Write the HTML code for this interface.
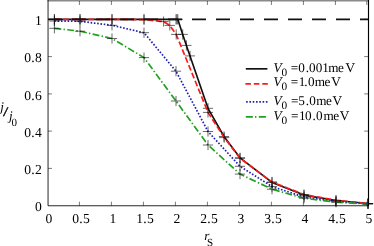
<!DOCTYPE html><html><head><meta charset="utf-8"><style>
html,body{margin:0;padding:0;background:#fff;}
body{width:374px;height:246px;position:relative;overflow:hidden;font-family:"Liberation Serif",serif;}
</style></head><body>
<svg width="374" height="246" viewBox="0 0 374 246" style="position:absolute;left:0;top:0;will-change:transform" font-family="Liberation Serif, serif" fill="#000" text-rendering="geometricPrecision">
<path d="M47.5 0.75H368.7" stroke="#8a8a8a" stroke-width="1.5" fill="none"/>
<path d="M48.05 0V205.75H368.4" stroke="#000" stroke-width="1" stroke-opacity="0.85" fill="none"/>
<path d="M368.5 0V206.2" stroke="#000" stroke-width="1.15" fill="none"/>
<path d="M79.4 205.7V201.7M79.4 1V5M111.4 205.7V201.7M111.4 1V5M143.4 205.7V201.7M143.4 1V5M175.4 205.7V201.7M175.4 1V5M207.4 205.7V201.7M207.4 1V5M239.4 205.7V201.7M239.4 1V5M271.4 205.7V201.7M271.4 1V5M303.4 205.7V201.7M303.4 1V5M335.4 205.7V201.7M335.4 1V5M366.8 205.7V201.7M366.8 1V5M48 168.4H52M368.2 168.4H364.2M48 131.1H52M368.2 131.1H364.2M48 93.9H52M368.2 93.9H364.2M48 56.6H52M368.2 56.6H364.2M48 19.3H52M368.2 19.3H364.2" stroke="#000" stroke-width="0.7" stroke-opacity="0.75" fill="none"/>
<polyline points="54.4,19.3 80.0,19.3 112.0,19.3 144.0,19.3 177.8,19.3 182.7,34.4 186.4,45.4 190.0,55.9 208.0,108.3 224.0,136.5 240.0,157.8 272.0,182.4 304.0,195.1 336.0,200.5 368.0,203.5" stroke="#111" stroke-width="1.65" fill="none" stroke-linejoin="round"/>
<path d="M49.3 19.3H59.5M54.4 14.2V24.4M74.9 19.3H85.1M80.0 14.2V24.4M106.9 19.3H117.1M112.0 14.2V24.4M138.9 19.3H149.1M144.0 14.2V24.4M172.7 19.3H182.9M177.8 14.2V24.4M177.6 34.4H187.8M182.7 29.3V39.5M181.3 45.4H191.5M186.4 40.3V50.5M184.9 55.9H195.1M190.0 50.8V61.0M202.9 108.3H213.1M208.0 103.2V113.4M218.9 136.5H229.1M224.0 131.4V141.6M234.9 157.8H245.1M240.0 152.7V162.9M266.9 182.4H277.1M272.0 177.3V187.5M298.9 195.1H309.1M304.0 190.0V200.2M330.9 200.5H341.1M336.0 195.4V205.6M362.9 203.5H373.1M368.0 198.4V208.6" stroke="#000" stroke-width="0.75" stroke-opacity="0.78" fill="none"/>
<polyline points="54.4,19.3 80.0,19.3 112.0,19.3 144.0,19.6 163.6,21.6 169.8,25.4 176.2,34.4 208.0,112.4 224.2,137.6 240.0,158.3 272.0,182.0 304.0,194.6 336.0,200.3 368.0,203.5" stroke="#ff1a1a" stroke-width="1.7" stroke-dasharray="5.9 2.56" fill="none"/>
<path d="M49.3 19.3H59.5M54.4 14.2V24.4M74.9 19.3H85.1M80.0 14.2V24.4M106.9 19.3H117.1M112.0 14.2V24.4M138.9 19.6H149.1M144.0 14.5V24.7M158.5 21.6H168.7M163.6 16.5V26.7M164.7 25.4H174.9M169.8 20.3V30.5M171.1 34.4H181.3M176.2 29.3V39.5M202.9 112.4H213.1M208.0 107.3V117.5M219.1 137.6H229.3M224.2 132.5V142.7M234.9 158.3H245.1M240.0 153.2V163.4M266.9 182.0H277.1M272.0 176.9V187.1M298.9 194.6H309.1M304.0 189.5V199.7M330.9 200.3H341.1M336.0 195.2V205.4M362.9 203.5H373.1M368.0 198.4V208.6" stroke="#000" stroke-width="0.75" stroke-opacity="0.78" fill="none"/>
<polyline points="54.4,21.0 80.0,21.3 112.0,25.3 144.0,32.7 176.0,71.2 208.0,131.5 240.0,166.3 272.0,186.6 304.0,197.0 336.0,201.5 368.0,203.8" stroke="#2020b4" stroke-width="1.7" stroke-dasharray="1.6 1.7" fill="none"/>
<path d="M49.3 21.0H59.5M54.4 15.9V26.1M74.9 21.3H85.1M80.0 16.2V26.4M106.9 25.3H117.1M112.0 20.2V30.4M138.9 32.7H149.1M144.0 27.6V37.8M170.9 71.2H181.1M176.0 66.1V76.3M202.9 131.5H213.1M208.0 126.4V136.6M234.9 166.3H245.1M240.0 161.2V171.4M266.9 186.6H277.1M272.0 181.5V191.7M298.9 197.0H309.1M304.0 191.9V202.1M330.9 201.5H341.1M336.0 196.4V206.6M362.9 203.8H373.1M368.0 198.7V208.9" stroke="#000" stroke-width="0.75" stroke-opacity="0.78" fill="none"/>
<polyline points="54.4,28.3 80.0,31.2 112.0,38.5 144.0,57.6 176.0,101.0 208.0,145.0 240.0,174.1 272.0,189.2 304.0,198.2 336.0,202.2 368.0,204.0" stroke="#22a022" stroke-width="1.7" stroke-dasharray="6.9 2.3 1.4 2.3" fill="none"/>
<path d="M49.3 28.3H59.5M54.4 23.2V33.4M74.9 31.2H85.1M80.0 26.1V36.3M106.9 38.5H117.1M112.0 33.4V43.6M138.9 57.6H149.1M144.0 52.5V62.7M170.9 101.0H181.1M176.0 95.9V106.1M202.9 145.0H213.1M208.0 139.9V150.1M234.9 174.1H245.1M240.0 169.0V179.2M266.9 189.2H277.1M272.0 184.1V194.3M298.9 198.2H309.1M304.0 193.1V203.3M330.9 202.2H341.1M336.0 197.1V207.3M362.9 204.0H373.1M368.0 198.9V209.1" stroke="#000" stroke-width="0.75" stroke-opacity="0.78" fill="none"/>
<path d="M176 14.2V24.4M176.9 14.2V24.4" stroke="#000" stroke-width="0.75" stroke-opacity="0.78" fill="none"/>
<path d="M48 19.3H368.2" stroke="#111" stroke-width="1.65" stroke-dasharray="14 10" fill="none"/>
<path d="M245.8 68.85H267.4" stroke="#111" stroke-width="1.65"/>
<path d="M245.4 83.9H267.8" stroke="#ff1a1a" stroke-width="1.7" stroke-dasharray="5.5 2.95"/>
<path d="M246.1 101.8H267.8" stroke="#2020b4" stroke-width="1.7" stroke-dasharray="1.6 1.7"/>
<path d="M245.8 116.85H267.6" stroke="#22a022" stroke-width="1.7" stroke-dasharray="7.1 2.1 1.4 2.4"/>
<text x="49.00" y="222.50" font-size="13.6" text-anchor="middle">0</text>
<text x="72.28" y="222.50" font-size="13.6">0</text>
<text x="79.30" y="222.50" font-size="13.6">.</text>
<text x="82.93" y="222.50" font-size="13.6">5</text>
<text x="113.00" y="222.50" font-size="13.6" text-anchor="middle">1</text>
<text x="136.28" y="222.50" font-size="13.6">1</text>
<text x="143.30" y="222.50" font-size="13.6">.</text>
<text x="146.92" y="222.50" font-size="13.6">5</text>
<text x="177.00" y="222.50" font-size="13.6" text-anchor="middle">2</text>
<text x="200.28" y="222.50" font-size="13.6">2</text>
<text x="207.30" y="222.50" font-size="13.6">.</text>
<text x="210.92" y="222.50" font-size="13.6">5</text>
<text x="241.00" y="222.50" font-size="13.6" text-anchor="middle">3</text>
<text x="264.27" y="222.50" font-size="13.6">3</text>
<text x="271.30" y="222.50" font-size="13.6">.</text>
<text x="274.92" y="222.50" font-size="13.6">5</text>
<text x="305.00" y="222.50" font-size="13.6" text-anchor="middle">4</text>
<text x="328.27" y="222.50" font-size="13.6">4</text>
<text x="335.30" y="222.50" font-size="13.6">.</text>
<text x="338.92" y="222.50" font-size="13.6">5</text>
<text x="369.00" y="222.50" font-size="13.6" text-anchor="middle">5</text>
<text x="34.90" y="211.40" font-size="13.6">0</text>
<text x="34.90" y="174.12" font-size="13.6">2</text>
<text x="31.28" y="174.12" font-size="13.6">.</text>
<text x="24.25" y="174.12" font-size="13.6">0</text>
<text x="34.90" y="136.84" font-size="13.6">4</text>
<text x="31.28" y="136.84" font-size="13.6">.</text>
<text x="24.25" y="136.84" font-size="13.6">0</text>
<text x="34.90" y="99.56" font-size="13.6">6</text>
<text x="31.28" y="99.56" font-size="13.6">.</text>
<text x="24.25" y="99.56" font-size="13.6">0</text>
<text x="34.90" y="62.28" font-size="13.6">8</text>
<text x="31.28" y="62.28" font-size="13.6">.</text>
<text x="24.25" y="62.28" font-size="13.6">0</text>
<text x="34.90" y="25.00" font-size="13.6">1</text>
<text x="273.51" y="71.50" font-size="13.2" font-style="italic">V</text>
<text x="281.47" y="75.50" font-size="11.3">0</text>
<text x="290.84" y="71.50" font-size="13.2">=</text>
<text x="298.30" y="71.50" font-size="13.2">0</text>
<text x="305.73" y="71.50" font-size="13.2">.</text>
<text x="309.10" y="71.50" font-size="13.2">0</text>
<text x="315.70" y="71.50" font-size="13.2">0</text>
<text x="322.34" y="71.50" font-size="13.2">1</text>
<text x="328.22" y="71.50" font-size="13.2">m</text>
<text x="337.98" y="71.50" font-size="13.2">e</text>
<text x="345.55" y="71.50" font-size="13.2">V</text>
<text x="273.51" y="86.40" font-size="13.2" font-style="italic">V</text>
<text x="281.47" y="90.40" font-size="11.3">0</text>
<text x="290.74" y="86.40" font-size="13.2">=</text>
<text x="298.84" y="86.40" font-size="13.2">1</text>
<text x="304.33" y="86.40" font-size="13.2">.</text>
<text x="307.90" y="86.40" font-size="13.2">0</text>
<text x="314.72" y="86.40" font-size="13.2">m</text>
<text x="324.38" y="86.40" font-size="13.2">e</text>
<text x="331.15" y="86.40" font-size="13.2">V</text>
<text x="273.51" y="104.50" font-size="13.2" font-style="italic">V</text>
<text x="281.47" y="108.50" font-size="11.3">0</text>
<text x="291.04" y="104.50" font-size="13.2">=</text>
<text x="298.23" y="104.50" font-size="13.2">5</text>
<text x="305.73" y="104.50" font-size="13.2">.</text>
<text x="309.20" y="104.50" font-size="13.2">0</text>
<text x="316.22" y="104.50" font-size="13.2">m</text>
<text x="325.98" y="104.50" font-size="13.2">e</text>
<text x="332.45" y="104.50" font-size="13.2">V</text>
<text x="273.51" y="119.50" font-size="13.2" font-style="italic">V</text>
<text x="281.47" y="123.50" font-size="11.3">0</text>
<text x="291.04" y="119.50" font-size="13.2">=</text>
<text x="299.04" y="119.50" font-size="13.2">1</text>
<text x="304.90" y="119.50" font-size="13.2">0</text>
<text x="312.53" y="119.50" font-size="13.2">.</text>
<text x="316.00" y="119.50" font-size="13.2">0</text>
<text x="323.42" y="119.50" font-size="13.2">m</text>
<text x="333.18" y="119.50" font-size="13.2">e</text>
<text x="339.65" y="119.50" font-size="13.2">V</text>
<text x="204.27" y="239.60" font-size="13.2" font-style="italic">r</text>
<text x="207.06" y="245.80" font-size="11">S</text>
<text x="0.30" y="110.70" font-size="13.2" font-style="italic">j</text>
<text transform="translate(2.89,116.28) scale(1.45,1.0)" font-size="13.2" stroke="#000" stroke-width="0.25">/</text>
<text x="9.00" y="120.20" font-size="13.2" font-style="italic">j</text>
<text x="11.48" y="125.80" font-size="11">0</text>
</svg>
</body></html>
